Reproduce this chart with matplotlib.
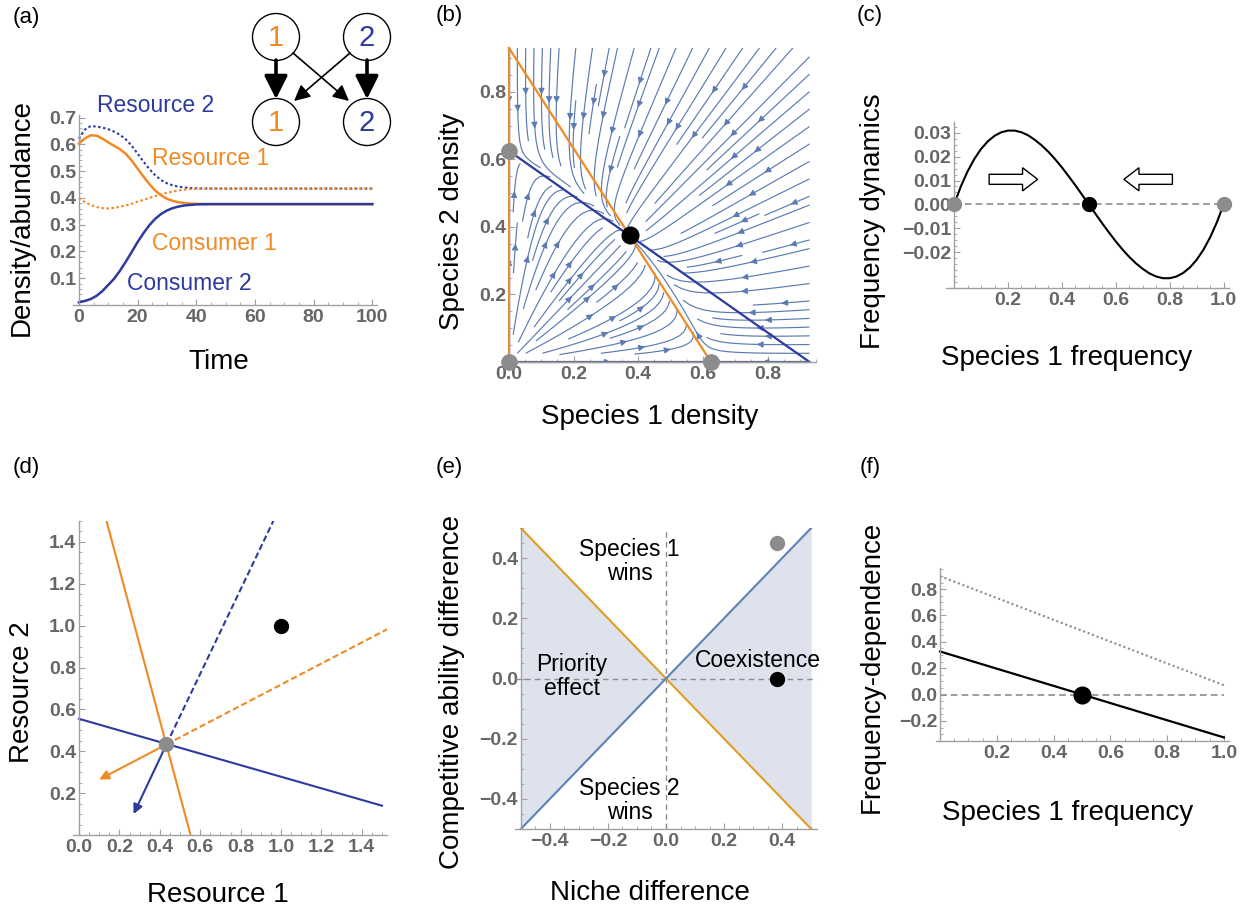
import numpy as np
import matplotlib
matplotlib.use('Agg')
from matplotlib import pyplot as plt
from matplotlib.patches import Circle, FancyArrowPatch, FancyArrow
from matplotlib.ticker import MultipleLocator

plt.rcParams['font.family'] = ['Liberation Sans', 'DejaVu Sans']

W, H = 1244, 908
ORANGE = '#F08A24'
BLUE = '#2D3A9E'
STREAM = '#5B7BB2'
GRAY = '#8C8C8C'
E_ORANGE = '#E19C24'
E_BLUE = '#5E81B5'
E_FILL = '#DEE2EC'

# (a) time series
a_time = [0, 2, 4, 6, 8, 10, 12, 14, 16, 18, 20, 22, 24, 26, 28, 30, 32, 34, 36, 38, 40, 45, 50, 100]
a_consumer2 = [0.010, 0.015, 0.022, 0.034, 0.052, 0.075, 0.098, 0.128, 0.162, 0.198, 0.235, 0.268,
               0.298, 0.322, 0.340, 0.353, 0.362, 0.368, 0.372, 0.374, 0.376, 0.377, 0.377, 0.377]
a_resource1 = [0.603, 0.622, 0.634, 0.633, 0.622, 0.608, 0.595, 0.582, 0.565, 0.540, 0.510, 0.480,
               0.452, 0.428, 0.410, 0.397, 0.389, 0.384, 0.381, 0.379, 0.378, 0.377, 0.377, 0.377]
a_resource2 = [0.622, 0.655, 0.668, 0.667, 0.663, 0.657, 0.648, 0.636, 0.619, 0.595, 0.566, 0.536,
               0.508, 0.485, 0.467, 0.455, 0.447, 0.442, 0.439, 0.437, 0.436, 0.435, 0.435, 0.435]
a_consumer1 = [0.400, 0.385, 0.374, 0.366, 0.362, 0.361, 0.363, 0.367, 0.372, 0.378, 0.386, 0.393,
               0.400, 0.407, 0.413, 0.419, 0.424, 0.428, 0.431, 0.433, 0.434, 0.435, 0.435, 0.435]
a_xticks = [0, 20, 40, 60, 80, 100]
a_yticks = [0.1, 0.2, 0.3, 0.4, 0.5, 0.6, 0.7]

# (b) competition model parameters and nullclines
b_K = 0.625
b_alpha = 0.672
b_null1_x = [0.0, 0.625]
b_null1_y = [0.93, 0.0]
b_null2_x = [0.0, 0.93]
b_null2_y = [0.625, 0.0]
b_gray_x = [0.0, 0.0, 0.625]
b_gray_y = [0.0, 0.625, 0.0]
b_eq = (0.375, 0.375)
b_xticks = [0.0, 0.2, 0.4, 0.6, 0.8]
b_yticks = [0.2, 0.4, 0.6, 0.8]

# (c) frequency dynamics
c_freq = [0.0, 0.025, 0.05, 0.075, 0.1, 0.125, 0.15, 0.175, 0.2, 0.225, 0.25, 0.275, 0.3, 0.325, 0.35,
          0.375, 0.4, 0.425, 0.45, 0.475, 0.5, 0.525, 0.55, 0.575, 0.6, 0.625, 0.65, 0.675, 0.7, 0.725,
          0.75, 0.775, 0.8, 0.825, 0.85, 0.875, 0.9, 0.925, 0.95, 0.975, 1.0]
c_dyn = [0.0, 0.0075, 0.0138, 0.0190, 0.0232, 0.0264, 0.0287, 0.0302, 0.0309, 0.0309, 0.0302,
         0.0289, 0.0270, 0.0247, 0.0220, 0.0189, 0.0155, 0.0118, 0.0080, 0.0040, 0.0,
         -0.0040, -0.0080, -0.0118, -0.0155, -0.0189, -0.0220, -0.0247, -0.0270, -0.0289, -0.0302,
         -0.0309, -0.0309, -0.0302, -0.0287, -0.0264, -0.0232, -0.0190, -0.0138, -0.0075, 0.0]
c_gray_x = [0.0, 1.0]
c_black_x = 0.5
c_arrow_right = (0.13, 0.31)
c_arrow_left = (0.81, 0.63)
c_arrow_y = 0.0105
c_xticks = [0.2, 0.4, 0.6, 0.8, 1.0]
c_yticks = [-0.02, -0.01, 0.0, 0.01, 0.02, 0.03]

# (d) resource plane
d_zngi1_x = [0.136, 0.552]
d_zngi1_y = [1.5, 0.0]
d_zngi2_x = [0.0, 1.5]
d_zngi2_y = [0.555, 0.14]
d_supply1_x = [0.433, 1.53]
d_supply1_y = [0.433, 0.985]
d_supply2_x = [0.433, 0.962]
d_supply2_y = [0.433, 1.5]
d_impact1 = (0.10, 0.265)
d_impact2 = (0.27, 0.10)
d_eq = (0.433, 0.433)
d_supply_pt = (1.0, 1.0)
d_xticks = [0.0, 0.2, 0.4, 0.6, 0.8, 1.0, 1.2, 1.4]
d_yticks = [0.2, 0.4, 0.6, 0.8, 1.0, 1.2, 1.4]

# (e) niche / fitness difference plane
e_x = [-0.5, 0.5]
e_orange_y = [0.5, -0.5]
e_blue_y = [-0.5, 0.5]
e_gray_pt = (0.383, 0.45)
e_black_pt = (0.383, 0.0)
e_xticks = [-0.4, -0.2, 0.0, 0.2, 0.4]
e_yticks = [-0.4, -0.2, 0.0, 0.2, 0.4]

# (f) frequency dependence
f_x = [0.0, 1.0]
f_solid = [0.327, -0.325]
f_dotted = [0.898, 0.071]
f_black_x = 0.5
f_xticks = [0.2, 0.4, 0.6, 0.8, 1.0]
f_yticks = [-0.2, 0.0, 0.2, 0.4, 0.6, 0.8]


fig = plt.figure(figsize=(W / 100, H / 100), dpi=100)


def make_ax(l, t, r, b):
    return fig.add_axes([l / W, 1 - b / H, (r - l) / W, (b - t) / H])


def fmt(v, nd):
    return ('{:.%df}' % nd).format(v).replace('-', '\u2212')


def style(ax, xt, yt, xnd, ynd, xminor, yminor):
    for s in ['top', 'right']:
        ax.spines[s].set_visible(False)
    for s in ['left', 'bottom']:
        ax.spines[s].set_color('#A0A0A0')
        ax.spines[s].set_linewidth(1.0)
    ax.set_xticks(xt)
    ax.set_xticklabels([fmt(v, xnd) for v in xt], fontweight='bold')
    ax.set_yticks(yt)
    ax.set_yticklabels([fmt(v, ynd) for v in yt], fontweight='bold')
    ax.xaxis.set_minor_locator(MultipleLocator(xminor))
    ax.yaxis.set_minor_locator(MultipleLocator(yminor))
    ax.tick_params(which='both', direction='in', color='#A0A0A0', labelcolor='#666666', labelsize=14)
    ax.tick_params(which='major', length=4.5, width=0.8)
    ax.tick_params(which='minor', length=2.5, width=0.6)
    ax.tick_params(axis='x', pad=3)
    ax.tick_params(axis='y', pad=2)


# ---------------- (a)
ax = make_ax(73, 115, 377, 305)
ax.plot(a_time, a_resource2, color=BLUE, lw=1.5, ls=(0, (1.2, 1.2)))
ax.plot(a_time, a_consumer1, color=ORANGE, lw=1.5, ls=(0, (1.2, 1.2)))
ax.plot(a_time, a_resource1, color=ORANGE, lw=1.8)
ax.plot(a_time, a_consumer2, color=BLUE, lw=1.8)
ax.set_xlim(-2, 101.6)
ax.set_ylim(0, 0.71)
ax.spines['left'].set_position(('data', 0))
style(ax, a_xticks, a_yticks, 0, 1, 5, 0.02)
ax.text(6.1, 0.746, 'Resource 2', color=BLUE, fontsize=16.5, va='center', clip_on=False)
ax.text(24.9, 0.548, 'Resource 1', color=ORANGE, fontsize=16.5, va='center')
ax.text(24.9, 0.231, 'Consumer 1', color=ORANGE, fontsize=16.5, va='center')
ax.text(16.4, 0.082, 'Consumer 2', color=BLUE, fontsize=16.5, va='center')

# ---------------- (b)
ax = make_ax(509, 48, 816, 362)
gx = np.linspace(0, 0.93, 100)
gy = np.linspace(0, 0.93, 100)
X, Y = np.meshgrid(gx, gy)
U = X * (b_K - X - b_alpha * Y)
V = Y * (b_K - Y - b_alpha * X)
speed = np.hypot(U, V) + 1e-9
try:
    ax.streamplot(X, Y, U / speed, V / speed, density=1.25, color=STREAM, linewidth=0.85,
                  arrowsize=0.9, minlength=0.15, num_arrows=3)
except TypeError:
    ax.streamplot(X, Y, U / speed, V / speed, density=1.25, color=STREAM, linewidth=0.85,
                  arrowsize=0.9, minlength=0.15)
ax.plot([0, 0], [0, 0.93], color=ORANGE, lw=1.6, clip_on=False)
ax.plot(b_null1_x, b_null1_y, color=ORANGE, lw=1.6)
ax.plot(b_null2_x, b_null2_y, color=BLUE, lw=1.6)
ax.plot([0, 0.93], [0, 0], color='#5A6488', lw=1.6, clip_on=False)
ax.plot(b_gray_x, b_gray_y, 'o', color=GRAY, ms=11, clip_on=False, zorder=5)
ax.plot(*b_eq, 'o', color='black', ms=12, zorder=6)
ax.set_xlim(0, 0.95)
ax.set_ylim(0, 0.93)
style(ax, b_xticks, b_yticks, 1, 1, 0.05, 0.05)

# ---------------- (c)
ax = make_ax(946, 122, 1229, 288)
ax.axhline(0, xmin=0.03 / 1.05, xmax=1.03 / 1.05, color=GRAY, lw=1.2, ls=(0, (4, 2.5)))
ax.plot(c_freq, c_dyn, color='black', lw=1.5)
ax.plot(c_gray_x, [0, 0], 'o', color=GRAY, ms=10, clip_on=False, zorder=5)
ax.plot(c_black_x, 0, 'o', color='black', ms=10, zorder=6)
ax.add_patch(FancyArrow(c_arrow_right[0], c_arrow_y, c_arrow_right[1] - c_arrow_right[0], 0,
                        width=0.0042, head_width=0.0097, head_length=0.056,
                        length_includes_head=True, fc='white', ec='black', lw=1))
ax.add_patch(FancyArrow(c_arrow_left[0], c_arrow_y, c_arrow_left[1] - c_arrow_left[0], 0,
                        width=0.0042, head_width=0.0097, head_length=0.056,
                        length_includes_head=True, fc='white', ec='black', lw=1))
ax.set_xlim(-0.03, 1.02)
ax.set_ylim(-0.035, 0.0345)
ax.spines['left'].set_position(('data', 0))
style(ax, c_xticks, c_yticks, 1, 2, 0.05, 0.0025)

# ---------------- (d)
ax = make_ax(73, 521, 387, 835)
ax.plot(d_zngi1_x, d_zngi1_y, color=ORANGE, lw=1.5)
ax.plot(d_zngi2_x, d_zngi2_y, color=BLUE, lw=1.5)
ax.plot(d_supply1_x, d_supply1_y, color=ORANGE, lw=1.5, ls=(0, (3, 1.5)))
ax.plot(d_supply2_x, d_supply2_y, color=BLUE, lw=1.5, ls=(0, (3, 1.5)))
ax.add_patch(FancyArrowPatch(d_eq, d_impact1, arrowstyle='-|>', mutation_scale=14,
                             color=ORANGE, lw=1.5, shrinkA=0, shrinkB=0))
ax.add_patch(FancyArrowPatch(d_eq, d_impact2, arrowstyle='-|>', mutation_scale=14,
                             color=BLUE, lw=1.5, shrinkA=0, shrinkB=0))
ax.plot(*d_eq, 'o', color=GRAY, ms=10, zorder=5)
ax.plot(*d_supply_pt, 'o', color='black', ms=10, zorder=5)
ax.set_xlim(-0.03, 1.525)
ax.set_ylim(0, 1.5)
ax.spines['left'].set_position(('data', 0))
style(ax, d_xticks, d_yticks, 1, 1, 0.05, 0.05)

# ---------------- (e)
ax = make_ax(515, 528, 817, 829)
ax.fill_between(e_x, e_orange_y, e_blue_y, color=E_FILL, lw=0)
ax.axhline(0, color=GRAY, lw=1.0, ls=(0, (4, 3)))
ax.axvline(0, color=GRAY, lw=1.0, ls=(0, (4, 3)))
ax.plot(e_x, e_orange_y, color=E_ORANGE, lw=1.5)
ax.plot(e_x, e_blue_y, color=E_BLUE, lw=1.5)
ax.plot(*e_gray_pt, 'o', color=GRAY, ms=10, zorder=5)
ax.plot(*e_black_pt, 'o', color='black', ms=10, zorder=5)
ax.text(-0.125, 0.388, 'Species 1\nwins', fontsize=16.5, ha='center', va='center', linespacing=1.05)
ax.text(-0.125, -0.405, 'Species 2\nwins', fontsize=16.5, ha='center', va='center', linespacing=1.05)
ax.text(-0.325, 0.006, 'Priority\neffect', fontsize=16.5, ha='center', va='center', linespacing=1.05)
ax.text(0.318, 0.06, 'Coexistence', fontsize=16.5, ha='center', va='center')
ax.set_xlim(-0.52, 0.52)
ax.set_ylim(-0.5, 0.5)
ax.spines['left'].set_position(('data', -0.5))
style(ax, e_xticks, e_yticks, 1, 1, 0.05, 0.05)

# ---------------- (f)
ax = make_ax(936, 568, 1229, 741)
ax.plot(f_x, [0, 0], color=GRAY, lw=1.2, ls=(0, (4, 2.5)))
ax.plot(f_x, f_dotted, color=GRAY, lw=1.5, ls=(0, (1, 1.3)))
ax.plot(f_x, f_solid, color='black', lw=1.6)
ax.plot(f_black_x, 0, 'o', color='black', ms=12, zorder=5)
ax.set_xlim(-0.014, 1.018)
ax.set_ylim(-0.352, 0.96)
ax.spines['left'].set_position(('data', 0))
style(ax, f_xticks, f_yticks, 1, 1, 0.05, 0.05)

# ---------------- overlay: panel letters, axis titles, network diagram
ov = fig.add_axes([0, 0, 1, 1])
ov.set_xlim(0, W)
ov.set_ylim(H, 0)
ov.axis('off')
ov.patch.set_visible(False)

for lab, px, py in [('(a)', 26, 17), ('(b)', 449, 15), ('(c)', 870, 15),
                    ('(d)', 26, 467), ('(e)', 449, 467), ('(f)', 870, 467)]:
    ov.text(px, py, lab, fontsize=16, ha='center', va='center')

for lab, px, py in [('Time', 219, 362), ('Species 1 density', 650, 417),
                    ('Species 1 frequency', 1067, 358), ('Resource 1', 218, 895),
                    ('Niche difference', 650, 893), ('Species 1 frequency', 1068, 813)]:
    ov.text(px, py, lab, fontsize=20, ha='center', va='center')

for lab, px, py in [('Density/abundance', 22, 217), ('Species 2 density', 452, 221),
                    ('Frequency dynamics', 873, 221), ('Resource 2', 22, 692),
                    ('Competitive ability difference', 452, 692),
                    ('Frequency-dependence', 872, 667)]:
    ov.text(px, py, lab, fontsize=20, ha='center', va='center', rotation=90)

net_x = [276, 367, 276, 367]
net_y = [37, 37, 122, 122]
net_lab = ['1', '2', '1', '2']
net_col = [ORANGE, BLUE, ORANGE, BLUE]
for nx, ny, nl, nc in zip(net_x, net_y, net_lab, net_col):
    ov.add_patch(Circle((nx, ny), 23.5, fc='white', ec='black', lw=1.0))
    ov.text(nx, ny + 1, nl, color=nc, fontsize=21, ha='center', va='center')

for (x0, y0), (x1, y1) in [((276, 60), (276, 99)), ((367, 60), (367, 99))]:
    ov.add_patch(FancyArrowPatch((x0, y0), (x1, y1), arrowstyle='-|>,head_length=0.7,head_width=0.35',
                                 mutation_scale=20, color='black', lw=2.6, shrinkA=0, shrinkB=0))
for (x0, y0), (x1, y1) in [((293, 53), (349, 101)), ((350, 53), (294, 101))]:
    ov.add_patch(FancyArrowPatch((x0, y0), (x1, y1), arrowstyle='-|>,head_length=0.6,head_width=0.3',
                                 mutation_scale=16, color='black', lw=1.2, shrinkA=0, shrinkB=0))

plt.savefig('out.png', dpi=100)
